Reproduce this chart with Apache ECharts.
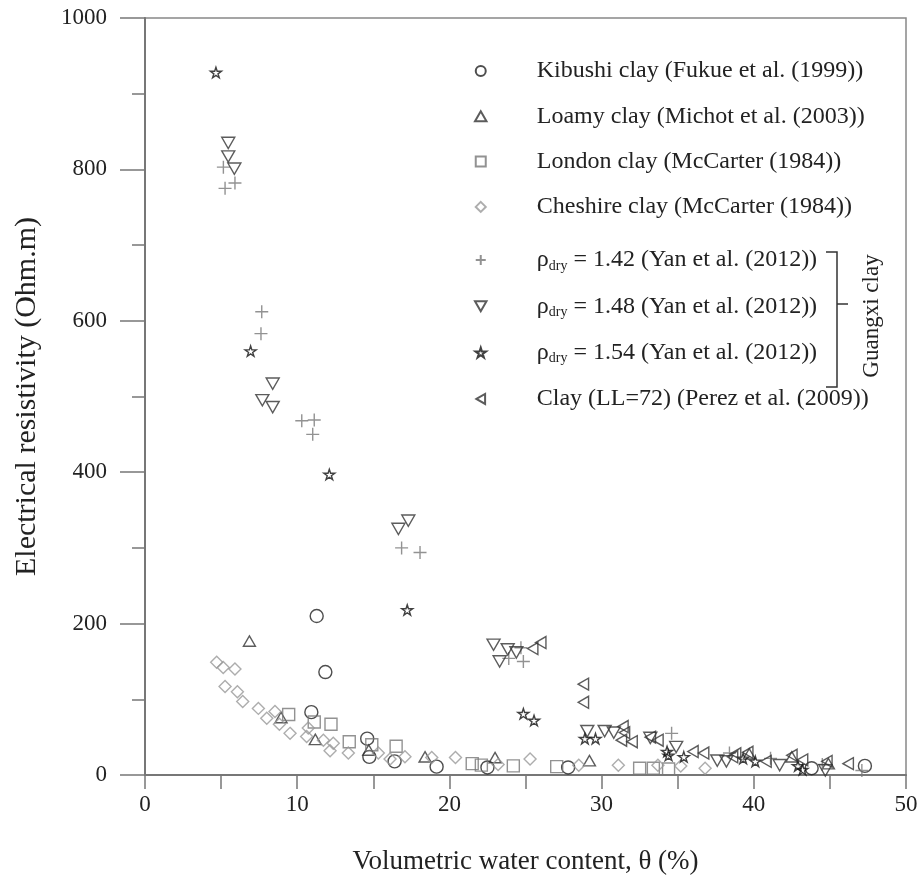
<!DOCTYPE html>
<html>
<head>
<meta charset="utf-8">
<script src="https://cdn.jsdelivr.net/npm/echarts@6/dist/echarts.min.js"></script>
<style>
  html, body { margin: 0; padding: 0; background: #fff; }
  #main { width: 921px; height: 890px; }
</style>
</head>
<body>
<div id="main"></div>
<script>
// series names, in legend order
const names = [
  'Kibushi clay (Fukue et al. (1999))',
  'Loamy clay (Michot et al. (2003))',
  'London clay (McCarter (1984))',
  'Cheshire clay (McCarter (1984))',
  'ρdry = 1.42 (Yan et al. (2012))',
  'ρdry = 1.48 (Yan et al. (2012))',
  'ρdry = 1.54 (Yan et al. (2012))',
  'Clay (LL=72) (Perez et al. (2009))'
];

// [volumetric water content %, resistivity Ohm.m]
const kibushi = [[11.28,210],[11.85,136],[10.93,83],[14.6,48],[14.74,24],[16.4,18],[19.16,11],[22.5,10],[27.8,10],[43.8,9],[47.3,12]];
const loamy = [[6.86,177],[8.94,76],[11.19,47],[14.7,33],[18.4,24],[23.0,23],[29.2,19],[39.7,28],[42.5,24],[44.9,15]];
const london = [[9.44,80],[11.12,70],[12.22,67],[13.42,44],[14.9,40],[16.5,38],[21.5,15],[22.1,13],[24.2,12],[27.05,11],[32.5,9],[33.4,9],[34.4,8]];
const cheshire = [[4.71,149],[5.14,142],[5.91,140],[5.26,117],[6.07,110],[6.42,97],[7.45,88],[8.0,75],[8.54,84],[8.83,67],[9.53,55],[10.73,62],[10.62,51],[11.72,46],[12.37,42],[12.16,32],[13.36,29],[15.33,29],[16.1,21],[17.08,24],[18.84,23],[20.4,23],[23.2,14],[25.3,21],[28.5,13],[31.1,13],[33.7,13],[35.2,12],[36.8,9]];
const rho142 = [[5.15,803],[5.91,782],[5.26,775],[7.67,612],[7.62,583],[10.3,468],[11.12,469],[11.02,450],[16.86,300],[18.07,294],[24.7,168],[23.9,154],[24.86,150],[34.6,55],[38.4,29],[41.1,22],[44.5,14],[47.1,6]];
const rho148 = [[5.47,835],[5.47,817],[5.87,801],[8.39,517],[7.71,495],[8.39,486],[17.3,336],[16.65,325],[22.9,172],[23.83,166],[24.4,162],[23.3,150],[29.06,58],[30.2,58],[30.8,56],[33.2,49],[34.9,37],[37.6,19],[38.2,18],[41.7,13],[44.7,6]];
const rho154 = [[4.66,928],[6.94,560],[12.11,397],[17.23,218],[24.86,81],[25.56,72],[28.9,48],[29.6,48],[34.3,31],[34.4,26],[35.4,24],[39.3,22],[40.1,18],[42.9,12],[43.2,7]];
const perez = [[26.0,175],[25.47,167],[28.8,120],[28.8,96],[31.4,64],[31.5,56],[31.3,46],[32.0,44],[33.2,50],[33.7,46],[36.0,31],[36.7,29],[38.6,24],[38.8,28],[39.6,30],[40.8,18],[42.5,26],[43.2,20],[44.8,18],[46.2,15]];

const font = '"Liberation Serif", "Times New Roman", serif';

const circlePath = 'circle';
const triPath = 'path://M50,0 L100,87 L0,87 Z';
const rectPath = 'path://M0,0 L100,0 L100,100 L0,100 Z';
const diamondPath = 'path://M50,0 L100,50 L50,100 L0,50 Z';
const starPath = 'path://M50,0 L61,35 L98,35 L68,57 L79,91 L50,70 L21,91 L32,57 L2,35 L39,35 Z';
const plusPath = 'path://M0,50 L100,50 M50,0 L50,100';
const downTri = 'path://M0,0 L100,0 L50,87 Z';
const leftTri = 'path://M0,50 L87,0 L87,100 Z';

function sc(name, data, symbol, size, color) {
  return {
    name: name,
    type: 'scatter',
    data: data,
    symbol: symbol,
    symbolSize: size,
    symbolKeepAspect: true,
    itemStyle: { color: 'rgba(0,0,0,0)', borderColor: color, borderWidth: 1.4 },
    emphasis: { disabled: true }
  };
}

const legendText = {
  fontFamily: font, fontSize: 24, color: '#222', lineHeight: 26,
  rich: {
    r: { fontFamily: font, fontSize: 24, color: '#222', lineHeight: 26 },
    s: { fontFamily: font, fontSize: 14, color: '#222', lineHeight: 14, padding: [12, 0, 0, 0] }
  }
};
function legendFmt(name) {
  if (name.indexOf('ρdry') === 0) {
    return '{r|ρ}{s|dry}{r|' + name.slice(4) + '}';
  }
  return name;
}
function legendBox(data, top, gap) {
  return {
    orient: 'vertical',
    left: 474, top: top, padding: 0,
    itemWidth: 102, itemHeight: 10, itemGap: gap,
    symbolKeepAspect: true,
    textStyle: legendText,
    data: data,
    formatter: legendFmt
  };
}

const chart = echarts.init(document.getElementById('main'));
const option = {
  backgroundColor: '#fff',
  animation: false,
  grid: { left: 145, top: 18, right: 15, bottom: 115, show: true, borderColor: '#888', borderWidth: 1.5 },
  xAxis: {
    type: 'value', min: 0, max: 50, interval: 10,
    name: 'Volumetric water content, θ (%)',
    nameLocation: 'middle', nameGap: 73,
    nameTextStyle: { fontFamily: font, fontSize: 27, color: '#222' },
    axisLine: { show: true, onZero: false, lineStyle: { color: '#777', width: 2 } },
    axisTick: { show: true, length: 14, lineStyle: { color: '#777', width: 1.5 } },
    minorTick: { show: true, splitNumber: 2, length: 14, lineStyle: { color: '#777', width: 1.5 } },
    splitLine: { show: false },
    axisLabel: { margin: 18, fontFamily: font, fontSize: 23, color: '#222' }
  },
  yAxis: {
    type: 'value', min: 0, max: 1000, interval: 200,
    name: 'Electrical resistivity (Ohm.m)',
    nameLocation: 'middle', nameGap: 103,
    nameTextStyle: { fontFamily: font, fontSize: 30, color: '#222' },
    axisLine: { show: true, lineStyle: { color: '#777', width: 2 } },
    axisTick: { show: true, length: 25, lineStyle: { color: '#777', width: 1.5 } },
    minorTick: { show: true, splitNumber: 2, length: 13, lineStyle: { color: '#777', width: 1.5 } },
    splitLine: { show: false },
    axisLabel: { margin: 38, fontFamily: font, fontSize: 23, color: '#222', formatter: function (v) { return String(v); } }
  },
  legend: [
    legendBox(names.slice(0, 4), 58, 19.3),
    legendBox(names.slice(4), 247, 20.3)
  ],
  graphic: [
    {
      type: 'polyline',
      shape: { points: [[826, 252], [837, 252], [837, 387], [826, 387]] },
      style: { stroke: '#333', lineWidth: 1.5, fill: null }
    },
    {
      type: 'line',
      shape: { x1: 837, y1: 304, x2: 848, y2: 304 },
      style: { stroke: '#333', lineWidth: 1.5 }
    },
    {
      type: 'text',
      x: 872, y: 316,
      rotation: Math.PI / 2,
      style: { text: 'Guangxi clay', fontFamily: font, fontSize: 23, fill: '#222', align: 'center', verticalAlign: 'middle' }
    }
  ],
  series: [
    sc(names[0], kibushi, circlePath, 13, '#222'),
    sc(names[1], loamy, triPath, 12, '#333'),
    sc(names[2], london, rectPath, 12, '#777'),
    sc(names[3], cheshire, diamondPath, 12, '#999'),
    sc(names[4], rho142, plusPath, 13, '#777'),
    sc(names[5], rho148, downTri, 13, '#333'),
    sc(names[6], rho154, starPath, 11, '#111'),
    sc(names[7], perez, leftTri, 12, '#333')
  ]
};
chart.setOption(option);
</script>
</body>
</html>
